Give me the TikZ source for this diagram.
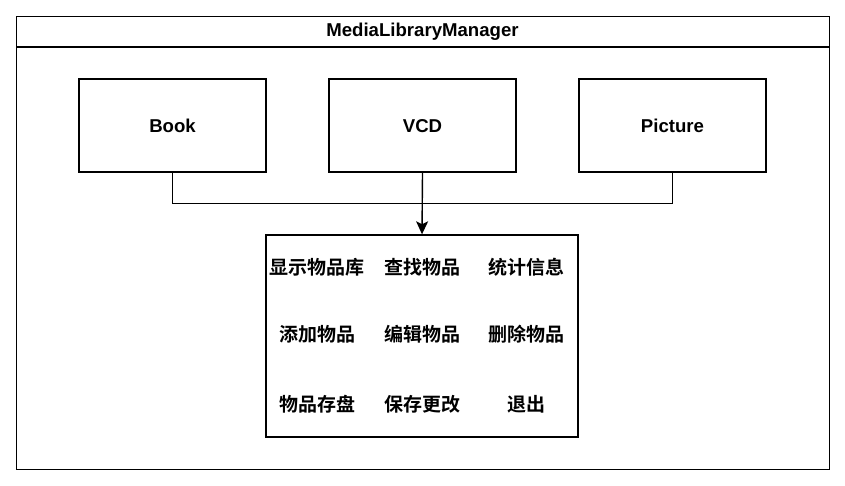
\documentclass[tikz,border=0pt]{standalone}
\usepackage{fontspec}
\setmainfont{Liberation Sans}
\newfontfamily\cjk[BoldFont={Noto Sans CJK SC Bold}]{Noto Sans CJK SC}
\usetikzlibrary{arrows.meta}
\begin{document}
\begin{tikzpicture}[x=1pt,y=-1pt,
  box/.style={draw,line width=1.4pt,minimum width=187pt,minimum height=93pt,text height=13.4pt,text depth=0pt,font=\fontsize{18.6}{20}\selectfont\bfseries},
  cell/.style={font=\fontsize{19}{21}\selectfont\cjk\bfseries},
  conn/.style={line width=1.4pt}]
\useasboundingbox (0,0) rectangle (845,486);
\node[draw,line width=1.4pt,minimum width=813pt,minimum height=453pt,anchor=north west,inner sep=0pt] (outer) at (16,16) {};
\draw[line width=1.4pt] (16,47) -- (829,47);
\node[font=\fontsize{18.6}{20}\selectfont\bfseries] (title) at (422.5,31.5) {MediaLibraryManager};
\node[box] (book) at (172.5,125.5) {Book};
\node[box] (vcd) at (422.5,125.5) {VCD};
\node[box] (pic) at (672.5,125.5) {Picture};
\node[draw,line width=1.4pt,minimum width=312pt,minimum height=202pt,inner sep=0pt] (menu) at (422,336) {};
\node[cell] (m11) at (317,267) {显示物品库};
\node[cell] (m12) at (422,267) {查找物品};
\node[cell] (m13) at (526,267) {统计信息};
\node[cell] (m21) at (317,334) {添加物品};
\node[cell] (m22) at (422,334) {编辑物品};
\node[cell] (m23) at (526,334) {删除物品};
\node[cell] (m31) at (317,404) {物品存盘};
\node[cell] (m32) at (422,404) {保存更改};
\node[cell] (m33) at (526,404) {退出};
\coordinate (jl) at (172.5,203.5);
\coordinate (jr) at (672.5,203.5);
\draw[conn] (book.south) -- (jl) -- (jr) -- (pic.south);
\draw[conn,-{Stealth[length=13pt,width=12pt,inset=3pt]}] (vcd.south) -- (menu.north);
\end{tikzpicture}
\end{document}
